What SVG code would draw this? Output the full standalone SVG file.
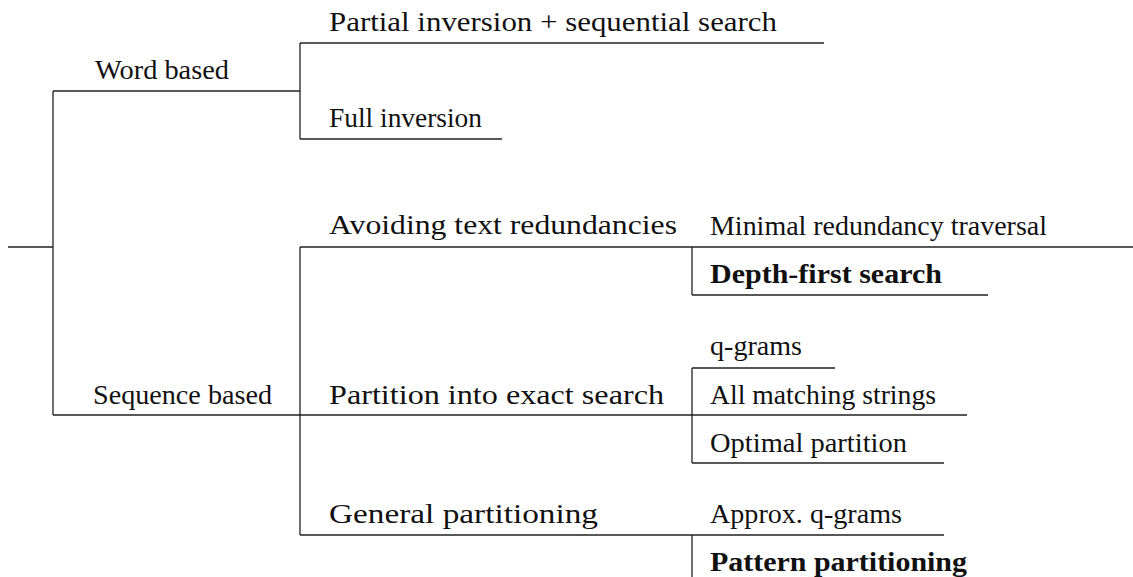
<svg xmlns="http://www.w3.org/2000/svg" width="1133" height="577" viewBox="0 0 1133 577">
<style>
.c{stroke:#222;stroke-width:1.3;fill:none}
.t{font-family:'Liberation Serif','Times New Roman',Times,'DejaVu Serif',serif;font-size:27px;fill:#111}
.b{font-weight:bold}
</style>
<rect width="1133" height="577" fill="#fff"/>
<g id="connectors">
<path class="c" d="M8 247H53M53 91V415M53 91H300M53 415H692"/>
<path class="c" d="M300 43V139M300 43H824M300 139H502"/>
<path class="c" d="M300 247V535M300 247H1133M300 535H944"/>
<path class="c" d="M692 247V295M692 295H988"/>
<path class="c" d="M692 368V463M692 368H835M692 415H967M692 463H944"/>
<path class="c" d="M692 535V577"/>
</g>
<g class="t" font-family="Liberation Serif, serif">
<g id="n-word"><text x="95" y="79" textLength="134" lengthAdjust="spacingAndGlyphs">Word based</text></g>
<g id="n-seq"><text x="93" y="404" textLength="179" lengthAdjust="spacingAndGlyphs">Sequence based</text></g>
<g id="n-partial"><text x="329" y="31" textLength="448" lengthAdjust="spacingAndGlyphs">Partial inversion + sequential search</text></g>
<g id="n-full"><text x="329" y="127" textLength="153" lengthAdjust="spacingAndGlyphs">Full inversion</text></g>
<g id="n-avoid"><text x="329" y="234" textLength="348" lengthAdjust="spacingAndGlyphs">Avoiding text redundancies</text></g>
<g id="n-partition"><text x="329" y="404" textLength="335" lengthAdjust="spacingAndGlyphs">Partition into exact search</text></g>
<g id="n-general"><text x="329" y="523" textLength="269" lengthAdjust="spacingAndGlyphs">General partitioning</text></g>
<g id="n-minimal"><text x="710" y="235" textLength="337" lengthAdjust="spacingAndGlyphs">Minimal redundancy traversal</text></g>
<g id="n-dfs"><text class="b" x="710" y="283" textLength="232" lengthAdjust="spacingAndGlyphs">Depth-first search</text></g>
<g id="n-qgrams"><text x="710" y="355" textLength="92" lengthAdjust="spacingAndGlyphs">q-grams</text></g>
<g id="n-allmatch"><text x="710" y="404" textLength="226" lengthAdjust="spacingAndGlyphs">All matching strings</text></g>
<g id="n-optimal"><text x="710" y="452" textLength="197" lengthAdjust="spacingAndGlyphs">Optimal partition</text></g>
<g id="n-approx"><text x="710" y="523" textLength="192" lengthAdjust="spacingAndGlyphs">Approx. q-grams</text></g>
<g id="n-pattern"><text class="b" x="710" y="571" textLength="257" lengthAdjust="spacingAndGlyphs">Pattern partitioning</text></g>
</g>
</svg>
